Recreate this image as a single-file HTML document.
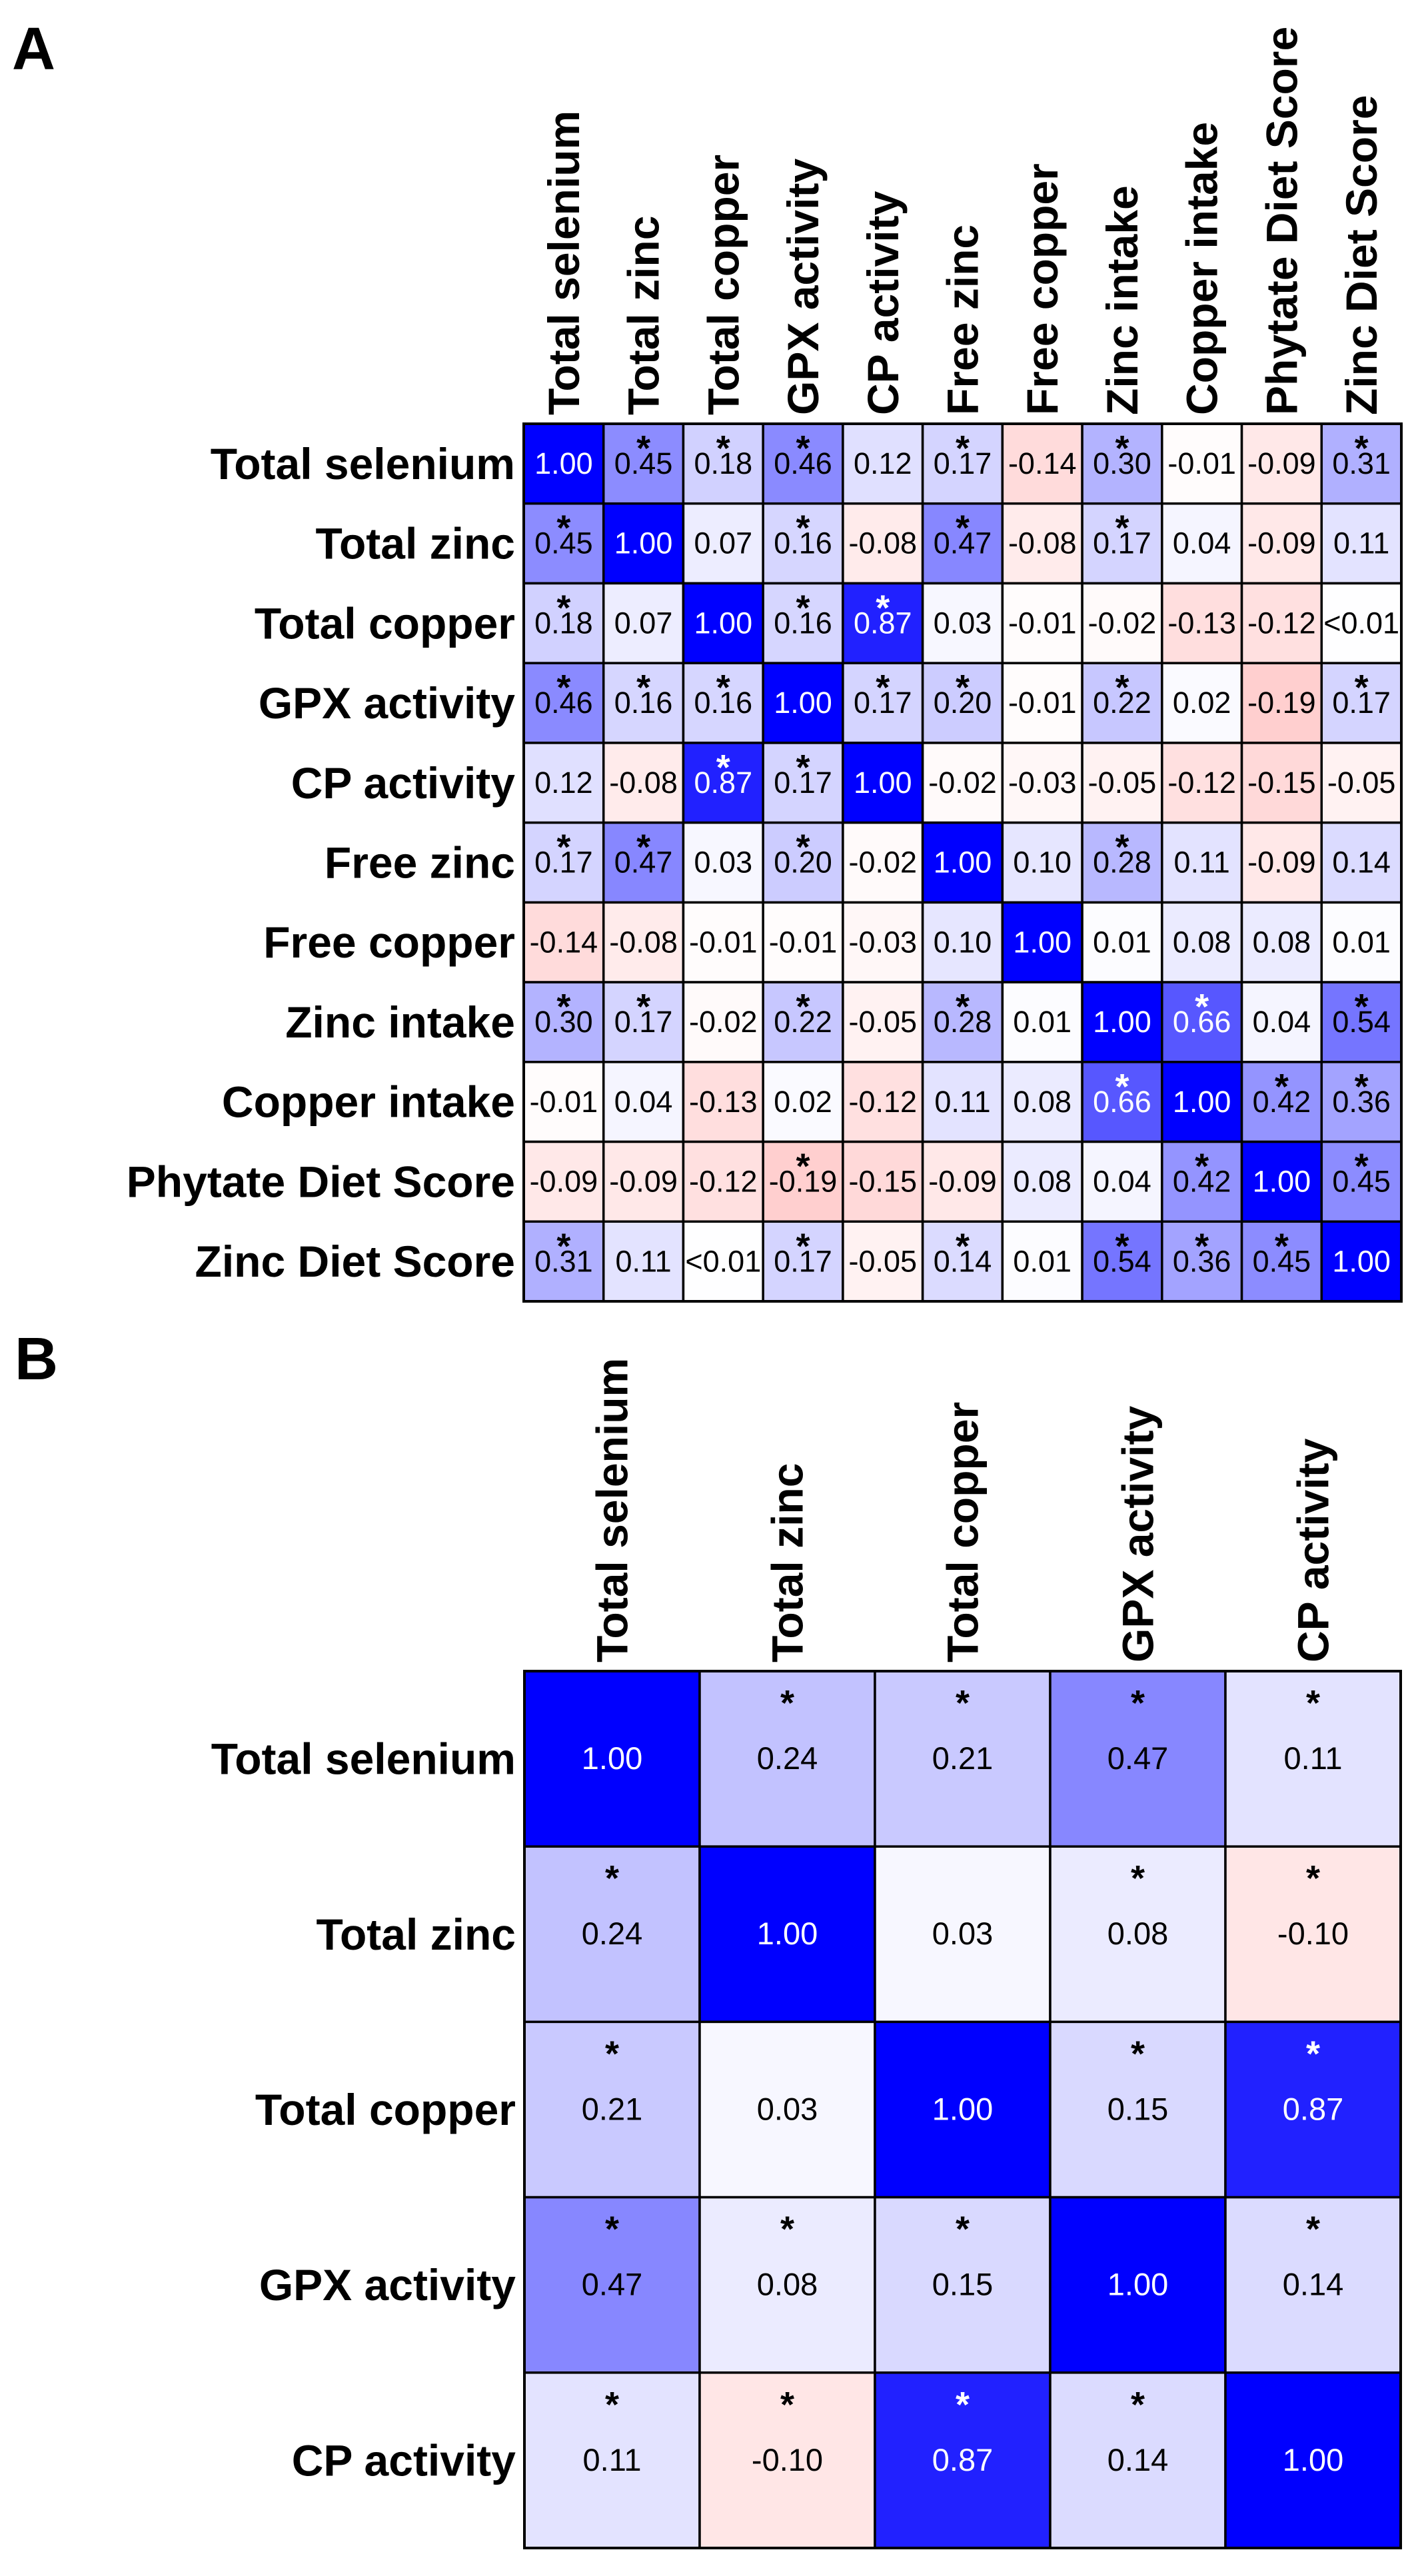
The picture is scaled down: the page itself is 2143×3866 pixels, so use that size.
<!DOCTYPE html>
<html><head><meta charset="utf-8"><style>
html,body{margin:0;padding:0;background:#fff}
svg{display:block}
text{font-family:"Liberation Sans",Arial,sans-serif}
</style></head>
<body>
<svg id="fig" xmlns="http://www.w3.org/2000/svg" width="2143" height="3866" viewBox="0 0 2143 3866">
<rect width="2143" height="3866" fill="#fff"/>
<text x="18" y="104" font-size="90" font-weight="bold">A</text>
<text x="22" y="2070" font-size="90" font-weight="bold">B</text>
<g id="ga"></g>
<g id="gb"></g>
</svg>
<script>
const labelsA = ["Total selenium","Total zinc","Total copper","GPX activity","CP activity","Free zinc","Free copper","Zinc intake","Copper intake","Phytate Diet Score","Zinc Diet Score"];
const valuesA = [
 [1.00,0.45,0.18,0.46,0.12,0.17,-0.14,0.30,-0.01,-0.09,0.31],
 [0.45,1.00,0.07,0.16,-0.08,0.47,-0.08,0.17,0.04,-0.09,0.11],
 [0.18,0.07,1.00,0.16,0.87,0.03,-0.01,-0.02,-0.13,-0.12,0.005],
 [0.46,0.16,0.16,1.00,0.17,0.20,-0.01,0.22,0.02,-0.19,0.17],
 [0.12,-0.08,0.87,0.17,1.00,-0.02,-0.03,-0.05,-0.12,-0.15,-0.05],
 [0.17,0.47,0.03,0.20,-0.02,1.00,0.10,0.28,0.11,-0.09,0.14],
 [-0.14,-0.08,-0.01,-0.01,-0.03,0.10,1.00,0.01,0.08,0.08,0.01],
 [0.30,0.17,-0.02,0.22,-0.05,0.28,0.01,1.00,0.66,0.04,0.54],
 [-0.01,0.04,-0.13,0.02,-0.12,0.11,0.08,0.66,1.00,0.42,0.36],
 [-0.09,-0.09,-0.12,-0.19,-0.15,-0.09,0.08,0.04,0.42,1.00,0.45],
 [0.31,0.11,0.005,0.17,-0.05,0.14,0.01,0.54,0.36,0.45,1.00]
];
const sigA = [
 [0,1,1,1,0,1,0,1,0,0,1],
 [1,0,0,1,0,1,0,1,0,0,0],
 [1,0,0,1,1,0,0,0,0,0,0],
 [1,1,1,0,1,1,0,1,0,0,1],
 [0,0,1,1,0,0,0,0,0,0,0],
 [1,1,0,1,0,0,0,1,0,0,0],
 [0,0,0,0,0,0,0,0,0,0,0],
 [1,1,0,1,0,1,0,0,1,0,1],
 [0,0,0,0,0,0,0,1,0,1,1],
 [0,0,0,1,0,0,0,0,1,0,1],
 [1,0,0,1,0,1,0,1,1,1,0]
];
const labelsB = ["Total selenium","Total zinc","Total copper","GPX activity","CP activity"];
const valuesB = [
 [1.00,0.24,0.21,0.47,0.11],
 [0.24,1.00,0.03,0.08,-0.10],
 [0.21,0.03,1.00,0.15,0.87],
 [0.47,0.08,0.15,1.00,0.14],
 [0.11,-0.10,0.87,0.14,1.00]
];
const sigB = [
 [0,1,1,1,1],
 [1,0,0,1,1],
 [1,0,0,1,1],
 [1,1,1,0,1],
 [1,1,1,1,0]
];

const NS="http://www.w3.org/2000/svg";
function mk(tag, attrs, parent){const e=document.createElementNS(NS,tag);for(const k in attrs)e.setAttribute(k,attrs[k]);parent.appendChild(e);return e;}
function color(v){
  if(v>=0){const c=Math.round(255*(1-v));return `rgb(${c},${c},255)`;}
  const c=Math.round(255*(1+v));return `rgb(255,${c},${c})`;
}
function fmt(v){ if(v>0&&v<0.01) return "<0.01"; return v.toFixed(2); }

function draw(g, labels, values, sig, cfg){
  const n=labels.length;
  const cw=(cfg.x1-cfg.x0)/n, ch=(cfg.y1-cfg.y0)/n;
  const xs=i=>cfg.x0+i*cw, ys=j=>cfg.y0+j*ch;
  // column labels
  labels.forEach((l,i)=>{
    const cx=xs(i)+cw/2+23, y=cfg.y0-13;
    const t=mk('text',{x:cx,y:y,transform:`rotate(-90 ${cx} ${y})`,'font-size':66,'font-weight':'bold'},g);
    t.textContent=l;
    
    
  });
  // row labels
  labels.forEach((l,j)=>{
    const t=mk('text',{x:cfg.x0-13,y:ys(j)+ch/2+23,'font-size':66,'font-weight':'bold','text-anchor':'end'},g);
    t.textContent=l;
    
    
  });
  for(let j=0;j<n;j++)for(let i=0;i<n;i++){
    const v=values[j][i];
    const r=mk('rect',{x:xs(i),y:ys(j),width:cw,height:ch,fill:color(v),stroke:'#000','stroke-width':3.5},g);
    
    
    const fill=v>=0.6?'#fff':'#000';
    const t=mk('text',{x:xs(i)+cw/2,y:ys(j)+cfg.valY,'font-size':cfg.valSize,'text-anchor':'middle',fill:fill},g);
    t.textContent=fmt(v);
    
    
    if(sig[j][i]){
      const s=mk('text',{x:xs(i)+cw/2,y:ys(j)+cfg.starY,'font-size':54,'font-weight':'bold','text-anchor':'middle',fill:fill},g);
      s.textContent='*';
      
      
    }
  }
  const b=mk('rect',{x:cfg.x0,y:cfg.y0,width:cfg.x1-cfg.x0,height:cfg.y1-cfg.y0,fill:'none',stroke:'#000','stroke-width':4},g);
  
  
}
draw(document.getElementById('ga'),labelsA,valuesA,sigA,{x0:786,x1:2103,y0:636,y1:1953,valY:75,valSize:45,starY:55});
draw(document.getElementById('gb'),labelsB,valuesB,sigB,{x0:787,x1:2102,y0:2508,y1:3824,valY:147,valSize:47,starY:66});
</script>
</body></html>
